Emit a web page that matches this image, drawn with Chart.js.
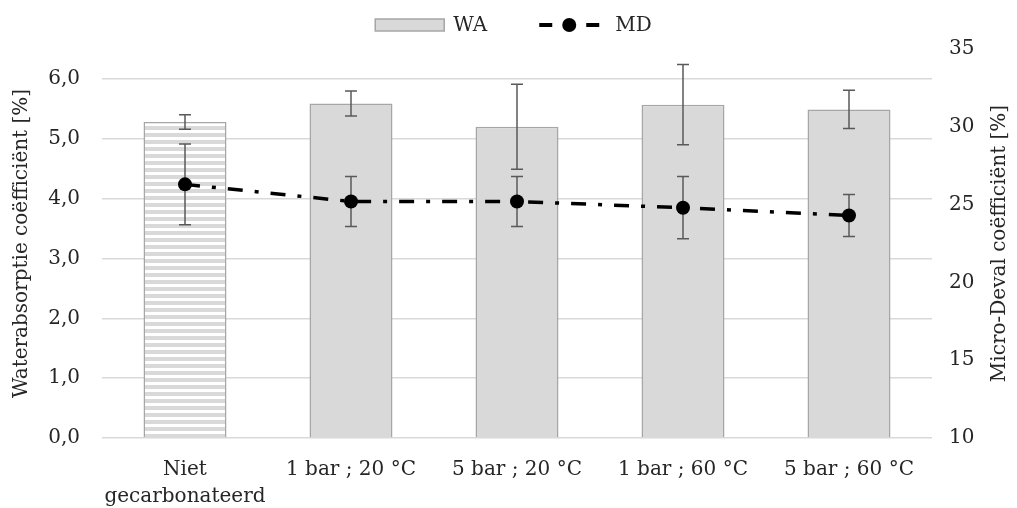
<!DOCTYPE html>
<html>
<head>
<meta charset="utf-8">
<script src="https://cdn.jsdelivr.net/npm/chart.js@4.4.1/dist/chart.umd.min.js"></script>
<style>
    html, body { margin: 0; padding: 0; background: #ffffff; }
    #wrap { width: 1017px; height: 508px; }
</style>
</head>
<body>
<div id="wrap"><canvas id="chart" width="1017" height="508"></canvas></div>
<script>
// data
const categories = [['Niet', 'gecarbonateerd'], '1 bar ; 20 °C', '5 bar ; 20 °C', '1 bar ; 60 °C', '5 bar ; 60 °C'];
const waValues = [5.28, 5.59, 5.20, 5.57, 5.49];
const waErrors = [0.12, 0.21, 0.71, 0.67, 0.32];
const mdValues = [26.3, 25.2, 25.2, 24.8, 24.3];
const mdErrors = [2.6, 1.6, 1.6, 2.0, 1.35];
const waTicks = [0, 1, 2, 3, 4, 5, 6];
const mdTicks = [10, 15, 20, 25, 30, 35];

const FONT = 'DejaVu Serif';
const TEXT = '#262626';

// striped fill for the first bar
function makeStripes() {
    const c = document.createElement('canvas');
    c.width = 8;
    c.height = 7;
    const g = c.getContext('2d');
    g.fillStyle = '#ffffff';
    g.fillRect(0, 0, 8, 7);
    g.fillStyle = '#d9d9d9';
    g.fillRect(0, 0, 8, 4);
    return g.createPattern(c, 'repeat');
}

// error bars drawn through the scales
function drawErrors(chart, dsIndex, values, errors, axisId) {
    const ctx = chart.ctx;
    const meta = chart.getDatasetMeta(dsIndex);
    const scale = chart.scales[axisId];
    ctx.save();
    ctx.strokeStyle = '#595959';
    ctx.lineWidth = 1.5;
    meta.data.forEach((el, i) => {
        const x = Math.round(el.x);
        const top = scale.getPixelForValue(values[i] + errors[i]);
        const bot = scale.getPixelForValue(values[i] - errors[i]);
        ctx.beginPath();
        ctx.moveTo(x, top);
        ctx.lineTo(x, bot);
        ctx.moveTo(x - 6, top);
        ctx.lineTo(x + 6, top);
        ctx.moveTo(x - 6, bot);
        ctx.lineTo(x + 6, bot);
        ctx.stroke();
    });
    ctx.restore();
}

const errorBarPlugin = {
    id: 'errorBars',
    afterDatasetDraw(chart, args) {
        if (args.index === 0) drawErrors(chart, 0, waValues, waErrors, 'y');
    },
    beforeDatasetDraw(chart, args) {
        if (args.index === 1) drawErrors(chart, 1, mdValues, mdErrors, 'y1');
    }
};

// legend like the Excel one + right axis title reading bottom to top
const extrasPlugin = {
    id: 'extras',
    afterDraw(chart) {
        const ctx = chart.ctx;
        const area = chart.chartArea;
        ctx.save();
        ctx.font = '20px "' + FONT + '"';
        ctx.fillStyle = TEXT;
        ctx.textBaseline = 'middle';

        // legend
        const wWA = ctx.measureText('WA').width;
        const wMD = ctx.measureText('MD').width;
        const total = 69 + 9 + wWA + 52 + 60 + 16 + wMD;
        let x = chart.width / 2 + 5 - total / 2;
        const y = 25;
        ctx.fillStyle = '#d9d9d9';
        ctx.fillRect(x, y - 6, 69, 12);
        ctx.strokeStyle = '#a6a6a6';
        ctx.lineWidth = 1.5;
        ctx.strokeRect(x, y - 6, 69, 12);
        x += 69 + 9;
        ctx.fillStyle = TEXT;
        ctx.textAlign = 'left';
        ctx.fillText('WA', x, y + 1);
        x += wWA + 52;
        ctx.fillStyle = '#000000';
        ctx.fillRect(x, y - 2, 13, 4);
        ctx.fillRect(x + 47, y - 2, 13, 4);
        ctx.beginPath();
        ctx.arc(x + 30, y, 7, 0, Math.PI * 2);
        ctx.fill();
        x += 60 + 16;
        ctx.fillStyle = TEXT;
        ctx.fillText('MD', x, y + 1);

        // right axis title
        ctx.translate(1000, (area.top + area.bottom) / 2);
        ctx.rotate(-Math.PI / 2);
        ctx.textAlign = 'center';
        ctx.fillText('Micro-Deval coëfficiënt [%]', 0, 0);
        ctx.restore();
    }
};

const stripes = makeStripes();

new Chart(document.getElementById('chart'), {
    type: 'bar',
    data: {
        labels: categories,
        datasets: [
            {
                label: 'WA',
                data: waValues,
                yAxisID: 'y',
                order: 2,
                backgroundColor: waValues.map((v, i) => i === 0 ? stripes : '#d9d9d9'),
                borderColor: '#a6a6a6',
                borderWidth: 1.5,
                barPercentage: 0.5,
                categoryPercentage: 1
            },
            {
                type: 'line',
                label: 'MD',
                data: mdValues,
                yAxisID: 'y1',
                order: 1,
                borderColor: '#000000',
                borderWidth: 3.5,
                borderDash: [15, 12, 4, 12],
                pointRadius: 7,
                pointBackgroundColor: '#000000',
                pointBorderWidth: 0,
                fill: false,
                tension: 0
            }
        ]
    },
    options: {
        responsive: false,
        animation: false,
        layout: { padding: { top: 49, left: 0, right: 0, bottom: 0 } },
        plugins: {
            tooltip: { enabled: false },
            legend: { display: false }
        },
        scales: {
            x: {
                grid: { display: false },
                border: { display: false },
                ticks: {
                    font: { family: FONT, size: 20, lineHeight: 1.35 },
                    color: TEXT,
                    padding: 10,
                    maxRotation: 0,
                    autoSkip: false
                },
                afterFit: function(scale) { scale.height = 70; }
            },
            y: {
                position: 'left',
                min: 0,
                max: 6.5,
                afterBuildTicks: function(scale) {
                    scale.ticks = waTicks.map(v => ({ value: v }));
                },
                grid: { color: '#d9d9d9', lineWidth: 1.5, drawTicks: false },
                border: { display: false },
                ticks: {
                    font: { family: FONT, size: 20 },
                    color: TEXT,
                    padding: 22,
                    callback: function(value) {
                        return value.toFixed(1).replace('.', ',');
                    }
                },
                title: {
                    display: true,
                    text: 'Waterabsorptie coëfficiënt [%]',
                    font: { family: FONT, size: 20 },
                    color: TEXT,
                    padding: { top: 10, bottom: 0 }
                },
                afterFit: function(scale) { scale.width = 102; }
            },
            y1: {
                position: 'right',
                min: 10,
                max: 35,
                afterBuildTicks: function(scale) {
                    scale.ticks = mdTicks.map(v => ({ value: v }));
                },
                grid: { drawOnChartArea: false, drawTicks: false },
                border: { display: false },
                ticks: {
                    font: { family: FONT, size: 20 },
                    color: TEXT,
                    padding: 17
                },
                afterFit: function(scale) { scale.width = 85; }
            }
        }
    },
    plugins: [errorBarPlugin, extrasPlugin]
});
</script>
</body>
</html>
